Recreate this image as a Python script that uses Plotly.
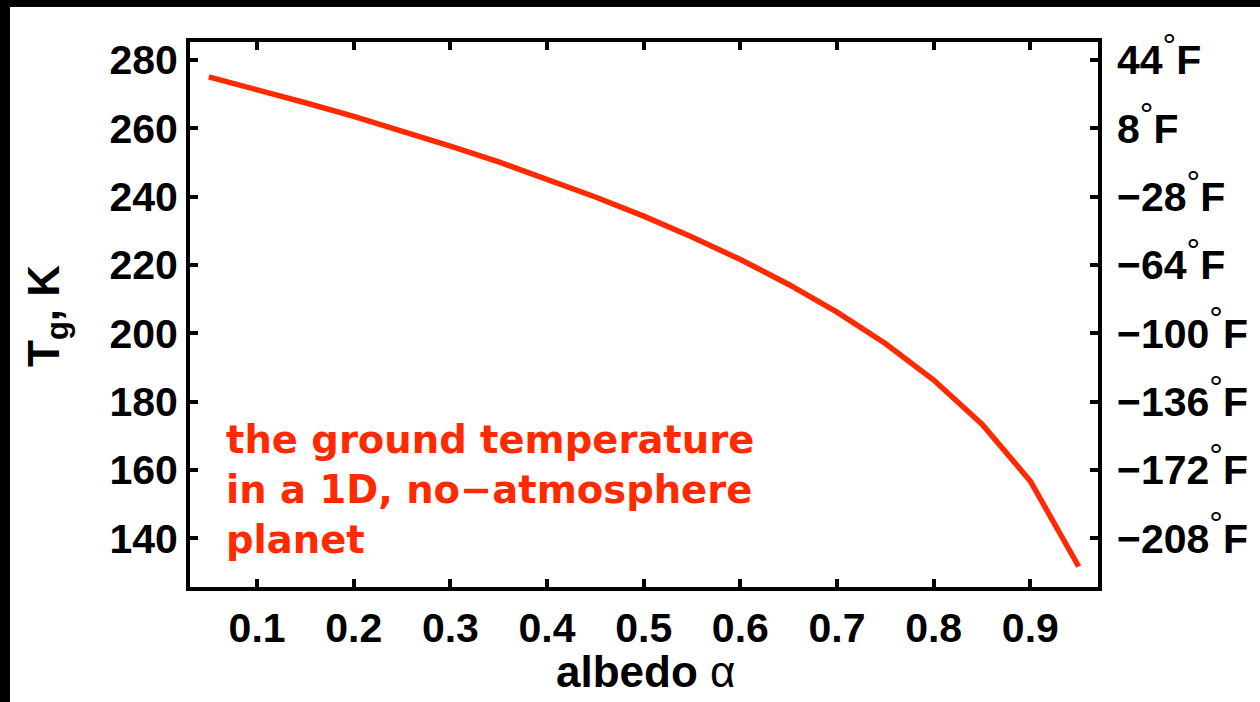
import plotly.graph_objects as go

albedo = [0.05, 0.10, 0.15, 0.20, 0.25, 0.30, 0.35, 0.40, 0.45, 0.50,
          0.55, 0.60, 0.65, 0.70, 0.75, 0.80, 0.85, 0.90, 0.95]
t_ground = [275.1, 271.4, 267.5, 263.5, 259.3, 254.8, 250.2, 245.2, 239.9, 234.3,
            228.2, 221.6, 214.3, 206.2, 197.0, 186.3, 173.4, 156.7, 131.7]
x_ticks = [0.1, 0.2, 0.3, 0.4, 0.5, 0.6, 0.7, 0.8, 0.9]
k_ticks = [140, 160, 180, 200, 220, 240, 260, 280]
f_labels = ["-208", "-172", "-136", "-100", "-64", "-28", "8", "44"]

FONT = "Liberation Sans, Arial, Helvetica, sans-serif"
WIDE = "DejaVu Sans, Verdana, sans-serif"
RED = "#ff2a00"
W, H = 1260, 702
L, R, T, B = 190, 1098, 42, 587
pw, ph = R - L, B - T

def px(x):
    return (x - L) / pw

def py(y):
    return (B - y) / ph

fig = go.Figure()
fig.add_trace(go.Scatter(x=albedo, y=t_ground, mode="lines",
                         line=dict(color=RED, width=5.5), showlegend=False))
fig.add_trace(go.Scatter(x=albedo, y=t_ground, mode="lines", yaxis="y2",
                         line=dict(color="rgba(0,0,0,0)", width=0),
                         hoverinfo="skip", showlegend=False))

deg = "<sup><span style='font-weight:normal;font-size:34px'>°</span></sup>"
ftext = [("\u2212" + s[1:] if s.startswith("-") else s) + deg + "F" for s in f_labels]

TICKFONT = dict(family=FONT, size=41, color="black", weight="bold")
axis_common = dict(showline=True, linecolor="black", linewidth=4,
                   ticks="inside", ticklen=8, tickwidth=4, tickcolor="black",
                   showgrid=False, zeroline=False, tickfont=TICKFONT)

fig.update_layout(
    width=W, height=H,
    margin=dict(l=L, r=W - R, t=T, b=H - B, pad=0),
    paper_bgcolor="white", plot_bgcolor="white",
    xaxis=dict(range=[0.0306, 0.970], tickvals=x_ticks,
               ticktext=[f"{v:.1f}" for v in x_ticks], mirror="ticks",
               ticklabelstandoff=2, **axis_common),
    yaxis=dict(range=[125.7, 285.3], tickvals=k_ticks,
               ticktext=[str(v) for v in k_ticks], mirror="ticks",
               ticklabelstandoff=0, **axis_common),
    yaxis2=dict(overlaying="y", side="right", range=[125.7, 285.3],
                tickvals=k_ticks, ticktext=ftext, showline=False, ticks="",
                showgrid=False, zeroline=False, ticklabelstandoff=18,
                tickfont=TICKFONT),
    shapes=[
        dict(type="rect", xref="paper", yref="paper", x0=px(0), x1=px(10),
             y0=py(H), y1=py(0), fillcolor="black", line=dict(width=0), layer="above"),
        dict(type="rect", xref="paper", yref="paper", x0=px(0), x1=px(W),
             y0=py(7), y1=py(0), fillcolor="black", line=dict(width=0), layer="above"),
    ],
    annotations=[
        dict(text="the ground temperature<br>in a 1D, no\u2212atmosphere<br>planet",
             xref="paper", yref="paper", x=px(224), y=py(489), xanchor="left",
             yanchor="middle", align="left", showarrow=False,
             font=dict(family=WIDE, size=38.5, color=RED, weight="bold")),
        dict(text="T<sub>g</sub>, K", textangle=-90, xref="paper", yref="paper",
             x=px(47), y=py(316), xanchor="center", yanchor="middle", showarrow=False,
             font=dict(family=FONT, size=44, color="black", weight="bold")),
        dict(text="albedo <span style='font-weight:normal'>α</span>", xref="paper", yref="paper",
             x=px(645), y=py(671), xanchor="center", yanchor="middle", showarrow=False,
             font=dict(family=FONT, size=44, color="black", weight="bold")),
    ],
)

fig.write_html("out.html")
